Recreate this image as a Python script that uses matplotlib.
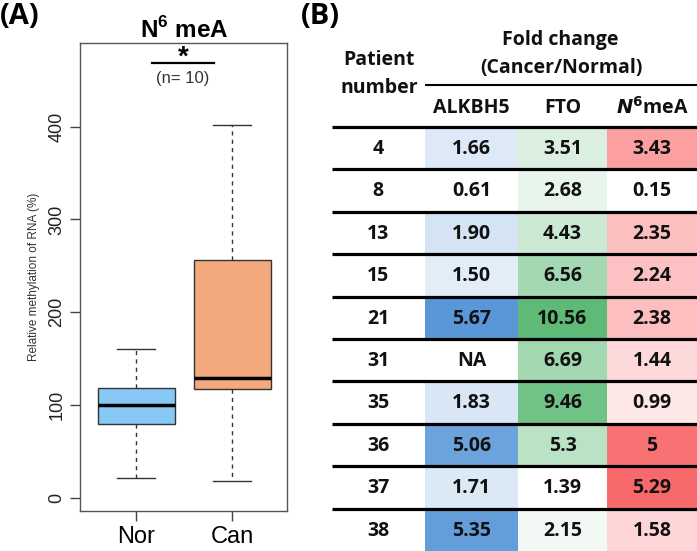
import matplotlib
matplotlib.use("Agg")
import matplotlib.pyplot as plt
from matplotlib.colors import LinearSegmentedColormap, Normalize

# box plot summary
groups = ["Nor", "Can"]
box_low = [22, 18]
box_q1 = [80, 117]
box_med = [100, 129]
box_q3 = [119, 256]
box_high = [161, 402]
box_colors = ["#87C8F5", "#F4A97C"]

# table
patients = ["4", "8", "13", "15", "21", "31", "35", "36", "37", "38"]
alkbh5 = [1.66, 0.61, 1.90, 1.50, 5.67, None, 1.83, 5.06, 1.71, 5.35]
fto = [3.51, 2.68, 4.43, 6.56, 10.56, 6.69, 9.46, 5.3, 1.39, 2.15]
n6mea = [3.43, 0.15, 2.35, 2.24, 2.38, 1.44, 0.99, 5, 5.29, 1.58]
fto_labels = ["3.51", "2.68", "4.43", "6.56", "10.56", "6.69", "9.46", "5.3", "1.39", "2.15"]
n6_labels = ["3.43", "0.15", "2.35", "2.24", "2.38", "1.44", "0.99", "5", "5.29", "1.58"]

W, H = 697, 551
fig = plt.figure(figsize=(W / 100, H / 100), dpi=100)

# ---------- (A) boxplot ----------
ax = fig.add_axes([80 / W, 1 - 511 / H, 207 / W, 468 / H])
stats = []
for i in range(len(groups)):
    stats.append(dict(med=box_med[i], q1=box_q1[i], q3=box_q3[i],
                      whislo=box_low[i], whishi=box_high[i], fliers=[]))
bp = ax.bxp(stats, positions=[1, 2], widths=0.8, patch_artist=True,
            boxprops=dict(edgecolor="#333333", linewidth=1.0),
            whiskerprops=dict(linestyle=(0, (3, 3)), color="#333333", linewidth=1.0),
            capprops=dict(color="#333333", linewidth=1.0),
            medianprops=dict(color="black", linewidth=2.5),
            capwidths=0.4)
for patch, c in zip(bp["boxes"], box_colors):
    patch.set_facecolor(c)
ax.set_xlim(0.417, 2.57)
ax.set_ylim(-14, 490)
ax.set_yticks([0, 100, 200, 300, 400])
ax.set_yticklabels(["0", "100", "200", "300", "400"], rotation=90, va="center",
                   fontsize=13, color="#222222", family="Liberation Sans")
ax.set_xticks([1, 2])
ax.set_xticklabels(groups, fontsize=17, family="Liberation Sans")
ax.tick_params(axis="both", direction="out", length=7, color="#444444", width=1)
ax.tick_params(axis="x", pad=4)
for s in ax.spines.values():
    s.set_color("#555555")
    s.set_linewidth(1.0)
ax.set_ylabel("Relative methylation of RNA (%)", fontsize=8.5, color="#333333",
              family="Liberation Sans", labelpad=6)

fig.text(184 / W, 1 - 30 / H, r"N$^{\mathregular{6}}$ meA", ha="center", va="center",
         fontsize=17.5, fontweight="bold", family="Liberation Sans")
fig.text(183 / W, 1 - 58 / H, "*", ha="center", va="center", fontsize=20,
         fontweight="bold", family="Liberation Sans")
fig.add_artist(plt.Line2D([152 / W, 214 / W], [1 - 63 / H, 1 - 63 / H],
                          color="black", linewidth=1.6))
fig.text(183 / W, 1 - 79 / H, "(n= 10)", ha="center", va="center", fontsize=12,
         color="#333333", family="Liberation Sans")
fig.text(0 / W, 1 - 17 / H, "(A)", ha="left", va="center", fontsize=21,
         fontweight="bold", family="Open Sans")

# ---------- (B) table ----------
tb = fig.add_axes([300 / W, 0, 397 / W, 1])
tb.set_xlim(300, 697)
tb.set_ylim(H, 0)
tb.axis("off")

top = 127
rh = 42.4
col_edges = [425, 518, 607, 697]
col_ctr = [(col_edges[i] + col_edges[i + 1]) / 2 for i in range(3)]
pat_x = 378
tfont = dict(family="Open Sans", fontweight="bold", fontsize=14, color="#111111")

cmaps = [LinearSegmentedColormap.from_list("b", ["#FFFFFF", "#5A97D8"]),
         LinearSegmentedColormap.from_list("g", ["#FFFFFF", "#5EBA76"]),
         LinearSegmentedColormap.from_list("r", ["#FFFFFF", "#F8696B"])]
columns = [alkbh5, fto, n6mea]
labels = [[("NA" if v is None else f"{v:.2f}") for v in alkbh5], fto_labels, n6_labels]

for j, vals in enumerate(columns):
    good = [v for v in vals if v is not None]
    norm = Normalize(min(good), max(good))
    for i, v in enumerate(vals):
        c = "white" if v is None else cmaps[j](norm(v))
        tb.bar(col_ctr[j], rh, width=col_edges[j + 1] - col_edges[j],
               bottom=top + i * rh, color=c, edgecolor="none")
        tb.text(col_ctr[j], top + (i + 0.52) * rh, labels[j][i], ha="center",
                va="center", **tfont)

for i, p in enumerate(patients):
    tb.text(pat_x, top + (i + 0.52) * rh, p, ha="center", va="center", **tfont)

for i in range(len(patients)):
    tb.plot([332, 697], [top + i * rh, top + i * rh], color="black", linewidth=2.3,
            solid_capstyle="butt")

tb.plot([425, 697], [85, 85], color="black", linewidth=1.5, solid_capstyle="butt")
tb.text(560, 40, "Fold change", ha="center", va="center", **tfont)
tb.text(561, 68, "(Cancer/Normal)", ha="center", va="center", **tfont)
tb.text(379, 60, "Patient", ha="center", va="center", **tfont)
tb.text(379, 88, "number", ha="center", va="center", **tfont)
tb.text(col_ctr[0], 108, "ALKBH5", ha="center", va="center", **tfont)
tb.text(col_ctr[1], 108, "FTO", ha="center", va="center", **tfont)
tb.text(col_ctr[2], 108, r"$\mathbfit{N}^{\mathbf{6}}$meA", ha="center", va="center", **tfont)
tb.text(301, 17, "(B)", ha="left", va="center", fontsize=21, fontweight="bold",
        family="Open Sans")

fig.savefig("out.png", dpi=100)
